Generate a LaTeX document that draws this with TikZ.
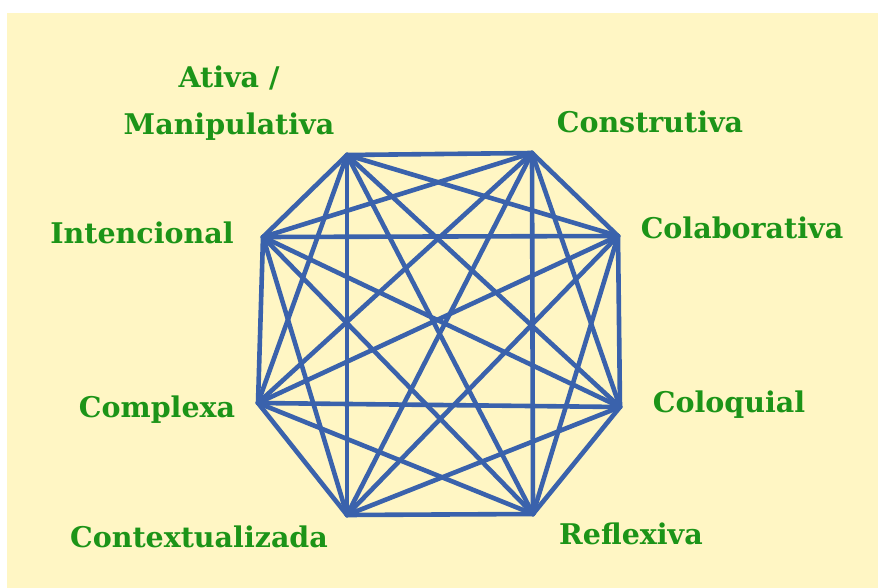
\documentclass[tikz,border=0pt]{standalone}
\usepackage{fontspec}
\setmainfont{DejaVu Serif}
\definecolor{bgyellow}{HTML}{FFF6C4}
\definecolor{labgreen}{HTML}{1C9418}
\definecolor{lineblue}{HTML}{3A62AC}
\begin{document}
\begin{tikzpicture}[x=1pt,y=-1pt,
  lbl/.style={text=labgreen, font=\bfseries\fontsize{28.5}{32}\selectfont, inner sep=0pt, anchor=center},
  edge/.style={draw=lineblue, line width=4.6pt, line cap=round, line join=round}]
\fill[white] (0,0) rectangle (878,588);
\fill[bgyellow] (7,13) rectangle (878,588);
\useasboundingbox (0,0) rectangle (878,588);
% vertices
\coordinate (v1) at (347,155); % Ativa / Manipulativa
\coordinate (v2) at (532,153); % Construtiva
\coordinate (v3) at (618,236); % Colaborativa
\coordinate (v4) at (620,407); % Coloquial
\coordinate (v5) at (533,514); % Reflexiva
\coordinate (v6) at (347,515); % Contextualizada
\coordinate (v7) at (258,403); % Complexa
\coordinate (v8) at (263,237); % Intencional
\foreach \i in {1,...,7}{
  \pgfmathtruncatemacro\s{\i+1}
  \foreach \j in {\s,...,8}{
    \draw[edge] (v\i) -- (v\j);
  }
}
% labels
\node[lbl] (ativa) at (229,78) {Ativa /};
\node[lbl] (manip) at (229,127) {Manipulativa};
\node[lbl] (constr) at (650,122) {Construtiva};
\node[lbl] (colab) at (742,228) {Colaborativa};
\node[lbl] (intenc) at (142,233) {Intencional};
\node[lbl] (compl) at (157,410) {Complexa};
\node[lbl] (coloq) at (729,405) {Coloquial};
\node[lbl] (context) at (199,537) {Contextualizada};
\node[lbl] (reflex) at (631,534) {Reflexiva};
\end{tikzpicture}
\end{document}
